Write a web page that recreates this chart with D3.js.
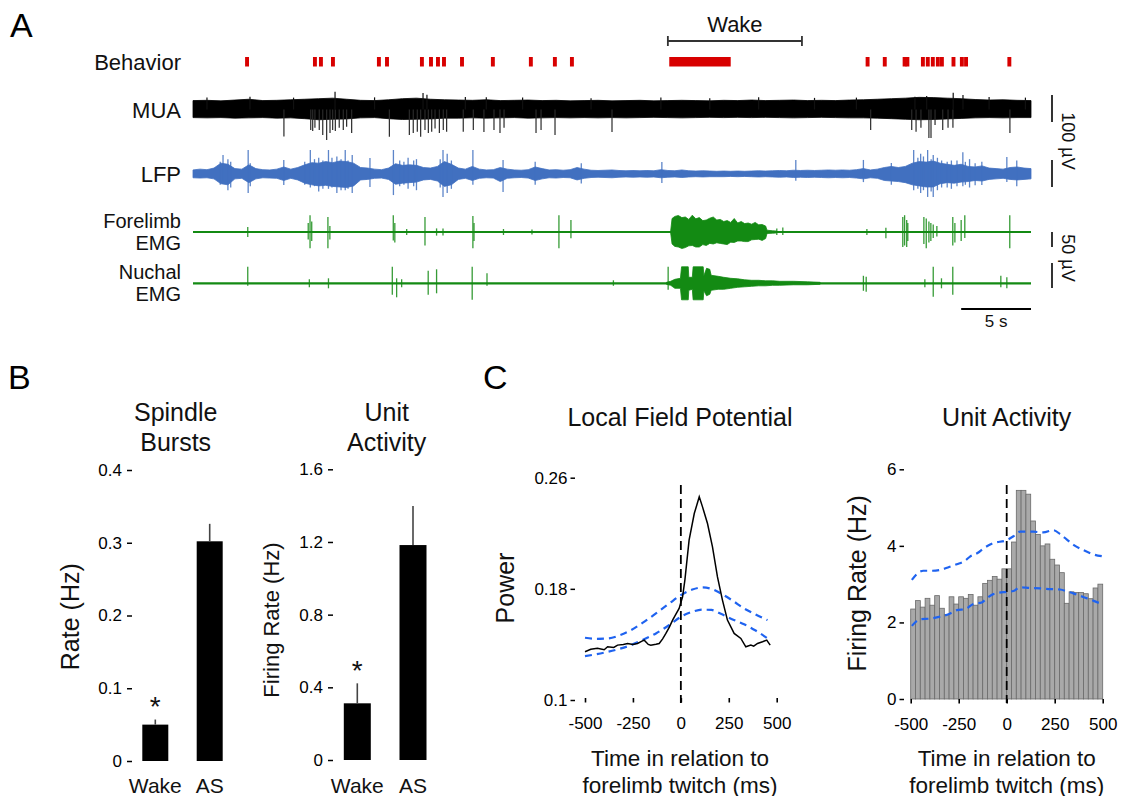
<!DOCTYPE html>
<html>
<head>
<meta charset="utf-8">
<title>Spindle bursts, unit activity and twitches</title>
<script src="https://cdn.jsdelivr.net/npm/d3@7/dist/d3.min.js"></script>
<style>
  html, body { margin: 0; padding: 0; background: #fff; }
  svg { display: block; font-family: "Liberation Sans", Arial, Helvetica, sans-serif; }
</style>
</head>
<body>
<svg id="fig" width="1123" height="796"></svg>
<script>
// ================= Panel A data (time in s, amplitude in µV) =================
const behaviorTwitches = [3.87, 8.73, 9.16, 10.02, 13.31, 13.89, 16.39, 17.04, 17.54, 17.97, 19.26,
  21.47, 24.19, 25.91, 27.13, 48.3, 49.53, 50.95, 51.15, 52.26, 52.61, 52.97, 53.33, 53.62,
  54.45, 55.05, 55.35, 58.45];
const twitchDuration = 0.28;
const wakeBout = [34.1, 38.5];
const wakeBracket = [34.0, 43.6];

// MUA envelope, one value per second
const muaHi = [33,34,32,35,38,33,34,36,38,40, 42,38,34,33,36,40,42,38,36,35,
  34,36,33,34,35,33,34,32,33,34, 32,33,34,32,33,34,33,32,34,33,
  35,33,34,35,33,34,33,35,36,38, 40,42,45,44,42,40,37,35,36,34, 33];
const muaLo = [-30,-31,-30,-32,-31,-30,-32,-31,-34,-38, -36,-35,-31,-30,-34,-37,-36,-35,-32,-32,
  -31,-32,-31,-30,-32,-31,-30,-31,-30,-31, -30,-31,-30,-29,-30,-31,-30,-29,-30,-29,
  -30,-29,-30,-31,-30,-29,-30,-31,-31,-32, -34,-36,-38,-37,-35,-33,-31,-30,-31,-30, -30];
const muaDownSpikes = [[6.51,-100],[8.43,-76],[8.57,-80],[8.73,-68],[9.04,-76],[9.29,-94],[9.57,-113],
  [9.81,-87],[10.0,-76],[10.19,-80],[10.47,-68],[10.76,-76],[11.0,-64],[11.36,-87],[14.06,-101],
  [15.49,-94],[15.77,-87],[16.06,-82],[16.3,-101],[16.61,-76],[16.85,-87],[17.09,-82],[17.33,-70],
  [17.64,-87],[17.92,-76],[18.16,-82],[19.35,-82],[20.07,-76],[20.83,-83],[21.55,-76],[21.98,-87],
  [22.27,-68],[24.56,-87],[24.92,-76],[25.92,-94],[30.0,-83],[48.52,-76],[51.46,-76],[51.77,-82],
  [52.12,-68],[52.69,-106],[52.84,-106],[53.13,-57],[53.68,-76],[54.06,-68],[54.41,-68],[58.49,-87]];
const muaUpSpikes = [[1.0,44],[4.08,47],[7.2,44],[10.17,66],[13.0,45],[16.47,61],[16.75,55],[19.5,46],
  [21.0,45],[23.6,44],[28.5,42],[33.5,44],[37.0,42],[40.5,45],[44.5,43],[47.5,44],[51.69,47],
  [52.53,50],[54.43,62],[55.13,54],[57.0,46],[59.6,44]];

// LFP envelope, one value per 0.5 s
const lfpHi = [15,18,16,22,40,36,20,18,34,20, 16,15,18,26,18,24,34,42,40,46,
  42,48,46,40,24,22,18,16,22,38, 32,34,32,24,22,28,46,36,22,18,
  28,18,15,16,24,18,15,14,16,26, 20,15,16,14,16,24,18,14,13,14,
  15,13,12,13,12,13,12,16,13,12, 15,12,11,12,11,10,11,10,11,10,
  11,12,11,12,13,12,14,13,14,13, 14,15,14,15,14,16,20,15,18,24,
  28,24,28,40,46,44,48,40,36,32, 36,28,26,30,22,20,18,24,26,22, 20];
const lfpLo = [-14,-15,-14,-18,-36,-40,-18,-16,-32,-18, -14,-15,-16,-24,-16,-22,-34,-40,-44,-42,
  -46,-48,-50,-44,-22,-20,-16,-15,-20,-38, -34,-32,-30,-22,-20,-26,-46,-40,-20,-16,
  -24,-16,-14,-15,-28,-16,-14,-13,-15,-24, -18,-14,-15,-13,-14,-22,-16,-13,-12,-13,
  -14,-12,-11,-12,-11,-12,-11,-14,-12,-11, -13,-11,-10,-11,-10,-10,-10,-9,-10,-9,
  -10,-11,-10,-11,-12,-11,-13,-12,-13,-12, -13,-14,-13,-14,-13,-15,-18,-14,-16,-24,
  -26,-28,-32,-40,-44,-48,-48,-36,-32,-34, -30,-28,-24,-26,-20,-18,-16,-20,-22,-20, -18];
const lfpSpikes = [[1.95,45,-40],[2.15,70,-25],[2.5,55,-60],[2.7,45,-50],[3.95,89,-70],[4.1,40,-45],
  [6.5,52,-41],[8.0,45,-40],[8.4,89,-50],[8.7,55,-45],[9.0,60,-65],[9.3,50,-55],[9.7,89,-55],
  [9.95,60,-50],[10.3,65,-70],[10.6,55,-60],[10.9,89,-60],[11.1,50,-55],[11.4,70,-70],[12.67,59,-48],
  [14.35,89,-78],[14.8,50,-45],[15.1,45,-40],[15.4,60,-55],[15.8,50,-45],[16.0,55,-60],[17.7,55,-50],
  [17.9,89,-85],[18.2,75,-70],[18.5,50,-55],[20.04,89,-40],[22.2,52,-67],[24.5,45,-40],[27.8,40,-35],
  [33.57,44,-33],[43.16,52,-25],[48.0,52,-30],[50.0,41,-40],[51.6,89,-60],[51.9,60,-55],[52.1,75,-70],
  [52.3,65,-60],[52.6,89,-85],[52.85,55,-65],[53.0,70,-85],[53.3,60,-60],[53.6,50,-50],[54.0,45,-50],
  [54.3,50,-55],[54.7,50,-45],[55.12,81,-45],[55.3,45,-40],[55.6,55,-50],[56.0,40,-42],[56.48,45,-41],
  [58.27,63,-30],[58.98,50,-45]];

// EMG twitches [t, up, down] and wake bursts [t, up, down]
const foreSpikes = [[3.92,17,-17],[8.25,30,-25],[8.38,56,-54],[8.5,35,-30],[9.66,50,-54],[9.8,20,-25],
  [14.34,56,-28],[14.45,30,-35],[15.3,10,-10],[16.61,50,-45],[17.44,12,-12],[17.9,12,-12],[20.04,53,-54],
  [20.12,30,-30],[22.23,10,-10],[24.27,8,-8],[26.2,56,-54],[27.06,40,-21],[41.8,12,-10],[42.23,15,-10],
  [48.25,10,-10],[49.61,14,-21],[50.82,50,-50],[50.95,56,-45],[51.1,40,-50],[51.18,30,-30],[52.33,50,-40],
  [52.5,45,-54],[52.69,35,-35],[52.83,30,-30],[53.0,25,-20],[53.26,20,-15],[54.4,50,-45],[54.55,30,-35],
  [55.0,40,-30],[55.26,56,-20],[58.48,56,-54]];
const foreWake = [[34.2,3,-3],[34.3,45,-40],[34.5,52,-48],[34.75,55,-50],[35.0,48,-55],[35.25,50,-52],
  [35.5,42,-46],[35.75,56,-45],[36.0,44,-50],[36.25,48,-50],[36.5,38,-42],[36.75,40,-45],[37.0,46,-38],
  [37.25,50,-40],[37.5,40,-36],[37.75,42,-38],[38.0,35,-40],[38.25,38,-42],[38.5,32,-34],[38.75,45,-35],
  [39.0,30,-30],[39.25,35,-30],[39.5,28,-32],[39.75,30,-32],[40.0,26,-26],[40.25,32,-25],[40.5,24,-24],
  [40.75,25,-28],[41.0,20,-22],[41.1,6,-5],[41.5,4,-4],[41.8,3,-3]];
const nuchSpikes = [[3.92,33,-5],[8.33,8,-8],[9.7,10,-10],[14.27,33,-23],[14.58,10,-28],[14.94,8,-8],
  [16.84,25,-23],[17.44,28,-20],[19.99,33,-33],[21.05,20,-5],[30.1,6,-5],[34.02,33,-13],[48.0,15,-15],
  [48.2,13,-17],[52.4,8,-8],[53.0,33,-27],[53.59,10,-10],[54.4,33,-23],[57.84,15,-8],[58.27,12,-10]];
const nuchWake = [[33.9,2,-2],[34.2,4,-4],[34.5,8,-10],[34.9,10,-10],[34.98,33,-33],[35.46,33,-33],
  [35.5,12,-14],[35.75,12,-12],[35.81,33,-33],[36.53,33,-33],[36.58,15,-15],[36.77,30,-25],[37.0,28,-22],
  [37.1,16,-14],[37.6,14,-12],[38.0,12,-12],[38.5,10,-10],[39.0,9,-8],[39.5,7,-7],[40.0,6,-6],
  [40.5,6,-5],[41.0,5,-5],[41.5,5,-4],[42.0,4,-4],[43.0,4,-3],[44.0,3,-3],[44.9,2,-2]];

// ================= Panel B data =================
const states = ['Wake', 'AS'];
const spindleRate = [0.050, 0.302];
const spindleErr = [0.007, 0.024];
const spindleTicks = [0, 0.1, 0.2, 0.3, 0.4];
const unitStateRate = [0.312, 1.183];
const unitStateErr = [0.11, 0.215];
const unitStateTicks = [0, 0.4, 0.8, 1.2, 1.6];
const significant = [true, false];

// ================= Panel C data (time relative to twitch, ms) =================
const timeTicks = [-500, -250, 0, 250, 500];
const lfpPowerTicks = [0.1, 0.18, 0.26];
const lfpTime = [-500,-470,-435,-400,-382,-350,-330,-300,-278,-250,-226,-200,-191,-170,-157,-130,-113,
  -95,-78,-60,-43,-25,-9,9,21,43,70,96,113,139,165,191,217,243,278,313,339,365,380,400,426,448,466];
const lfpPower = [0.1347,0.1365,0.1372,0.1362,0.1383,0.1378,0.1395,0.1400,0.1407,0.1400,0.1407,0.1425,
  0.1431,0.1400,0.1395,0.1402,0.1407,0.1440,0.1479,0.1525,0.1575,0.1620,0.1659,0.1743,0.1863,0.2150,
  0.2342,0.2462,0.2390,0.2270,0.2102,0.1886,0.1719,0.1575,0.1479,0.1443,0.1383,0.1395,0.1388,0.1407,
  0.1419,0.1431,0.1395];
const lfpBandTime = [-500,-440,-380,-320,-260,-200,-130,-60,0,60,113,160,209,270,330,390,452];
const lfpUpper = [0.1448,0.1440,0.1443,0.1465,0.1503,0.1555,0.1623,0.1695,0.1755,0.1795,0.1810,0.1800,
  0.1767,0.1715,0.1659,0.1615,0.1575];
const lfpLower = [0.1316,0.1330,0.1347,0.1368,0.1395,0.1432,0.1479,0.1540,0.1599,0.1635,0.1650,0.1648,
  0.1620,0.1580,0.1545,0.1500,0.1443];

const unitRateTicks = [0, 2, 4, 6];
const binWidth = 25;
const unitRate = [2.35,2.57,2.4,2.63,2.45,2.7,2.37,2.2,2.67,2.48,2.67,2.63,2.73,2.45,2.67,3.02,3.1,3.2,3.13,3.4,
  3.4,4.1,5.45,5.45,5.35,4.65,4.3,4.0,4.05,3.65,3.5,3.3,2.5,2.8,2.78,2.78,2.75,2.62,2.9,3.0];
const unitUpperTime = [-494,-460,-434,-390,-347,-300,-260,-220,-191,-150,-122,-70,0,35,70,139,190,243,280,312,350,399,450,495];
const unitUpper = [3.11,3.3,3.35,3.35,3.37,3.45,3.52,3.6,3.72,3.82,3.93,4.07,4.15,4.25,4.37,4.37,4.35,4.41,4.3,4.17,4.02,3.89,3.78,3.73];
const unitLowerTime = [-494,-451,-400,-347,-300,-260,-215,-174,-130,-104,-70,0,35,70,120,174,230,278,320,347,380,417,460,495];
const unitLower = [1.91,2.08,2.1,2.15,2.22,2.32,2.35,2.48,2.52,2.63,2.74,2.80,2.82,2.92,2.9,2.89,2.87,2.86,2.8,2.76,2.7,2.63,2.55,2.48];

// ================= drawing =================
const svg = d3.select('#fig');
const RED = '#d80000', BLUE_LFP = '#4170c0', GREEN = '#138a13', DASH_BLUE = '#1f63f0';

function label(g, x, y, text, size, anchor = 'middle', rotate = 0) {
  const t = g.append('text')
    .attr('x', x).attr('y', y)
    .attr('font-size', size)
    .attr('text-anchor', anchor)
    .attr('dominant-baseline', 'central')
    .attr('fill', '#111')
    .text(text);
  if (rotate) t.attr('transform', `rotate(${rotate},${x},${y})`);
  return t;
}
// multi-line label kept as one text element
function labelLines(g, x, y, lines, size, gap, anchor = 'middle') {
  const t = g.append('text')
    .attr('font-size', size)
    .attr('text-anchor', anchor)
    .attr('fill', '#111');
  lines.forEach((s, i) => {
    t.append('tspan').attr('x', x).attr('y', y + i * gap)
      .attr('dominant-baseline', 'central').text(s);
  });
  return t;
}

// ---------- Panel A ----------
const gA = svg.append('g');
const tA = d3.scaleLinear().domain([0, 60]).range([193, 1031]);
const muaY = d3.scaleLinear().domain([-100, 100]).range([109.5 + 27, 109.5 - 27]);
const lfpY = d3.scaleLinear().domain([-100, 100]).range([174 + 27, 174 - 27]);
const foreY = d3.scaleLinear().domain([-100, 100]).range([232 + 30, 232 - 30]);
const nuchY = d3.scaleLinear().domain([-100, 100]).range([283.3 + 50, 283.3 - 50]);

gA.append('text').attr('x', 10).attr('y', 37).attr('font-size', 34).text('A');

// behaviour
gA.selectAll('rect.twitch').data(behaviorTwitches).join('rect')
  .attr('x', d => tA(d - twitchDuration / 2))
  .attr('width', tA(twitchDuration) - tA(0))
  .attr('y', 57).attr('height', 9.5).attr('fill', RED);
gA.append('rect').attr('x', tA(wakeBout[0])).attr('width', tA(wakeBout[1]) - tA(wakeBout[0]))
  .attr('y', 57).attr('height', 9.5).attr('fill', RED);
const bx0 = tA(wakeBracket[0]), bx1 = tA(wakeBracket[1]);
gA.append('path').attr('d', `M${bx0},36V46M${bx0},41H${bx1}M${bx1},36V46`)
  .attr('stroke', '#333').attr('stroke-width', 1.8).attr('fill', 'none');
label(gA, (bx0 + bx1) / 2, 24, 'Wake', 22);

// generic envelope band + spike helpers
function bandFromArrays(hi, lo, step, y, color) {
  gA.append('path').datum(hi)
    .attr('d', d3.area().x((d, i) => tA(i * step)).y0((d, i) => y(lo[i])).y1(d => y(d)))
    .attr('fill', color).attr('stroke', color).attr('stroke-width', 0.8);
}
function bandFromTriples(list, y, color) {
  gA.append('path').datum(list)
    .attr('d', d3.area().x(d => tA(d[0])).y0(d => y(d[2])).y1(d => y(d[1])))
    .attr('fill', color).attr('stroke', color).attr('stroke-width', 0.8);
}
function spikes(list, y, color, w, opacity = 1) {
  gA.append('g').selectAll('line').data(list).join('line')
    .attr('x1', d => tA(d[0])).attr('x2', d => tA(d[0]))
    .attr('y1', d => y(d.length > 2 ? d[2] : 0)).attr('y2', d => y(d[1]))
    .attr('stroke', color).attr('stroke-width', w).attr('stroke-opacity', opacity);
}

// MUA
bandFromArrays(muaHi, muaLo, 1, muaY, '#000');
spikes(muaDownSpikes, muaY, '#2a2a2a', 1.2);
spikes(muaUpSpikes, muaY, '#111', 1.2);
// LFP
bandFromArrays(lfpHi, lfpLo, 0.5, lfpY, BLUE_LFP);
spikes(lfpSpikes, lfpY, BLUE_LFP, 1.3, 0.85);
// Forelimb EMG
gA.append('line').attr('x1', tA(0)).attr('x2', tA(60)).attr('y1', foreY(0)).attr('y2', foreY(0))
  .attr('stroke', GREEN).attr('stroke-width', 2.2);
bandFromTriples(foreWake, foreY, GREEN);
spikes(foreSpikes, foreY, GREEN, 1.3, 0.85);
// Nuchal EMG
gA.append('line').attr('x1', tA(0)).attr('x2', tA(60)).attr('y1', nuchY(0)).attr('y2', nuchY(0))
  .attr('stroke', GREEN).attr('stroke-width', 2.2);
bandFromTriples(nuchWake, nuchY, GREEN);
spikes(nuchSpikes, nuchY, GREEN, 1.3, 0.85);

// trace names
label(gA, 181, 62, 'Behavior', 22, 'end');
label(gA, 181, 110, 'MUA', 22, 'end');
label(gA, 181, 174, 'LFP', 22, 'end');
labelLines(gA, 181, 220.5, ['Forelimb', 'EMG'], 20, 22.5, 'end');
labelLines(gA, 181, 271.5, ['Nuchal', 'EMG'], 20, 22.5, 'end');

// amplitude scale bars
function vbar(x, top, len) {
  gA.append('line').attr('x1', x).attr('x2', x).attr('y1', top).attr('y2', top + len)
    .attr('stroke', '#000').attr('stroke-width', 1.6);
}
vbar(1052, 95, muaY(0) - muaY(100));
vbar(1052, 160, lfpY(0) - lfpY(100));
vbar(1052, 232, foreY(0) - foreY(50));
vbar(1052, 263, nuchY(0) - nuchY(50));
label(gA, 1068, 141, '100 µV', 18, 'middle', 90);
label(gA, 1068, 258, '50 µV', 18, 'middle', 90);
// time scale bar
gA.append('line').attr('x1', tA(55)).attr('x2', tA(60)).attr('y1', 309).attr('y2', 309)
  .attr('stroke', '#000').attr('stroke-width', 1.8);
label(gA, tA(57.5), 321, '5 s', 17);

// ---------- Panel B ----------
const gB = svg.append('g');
gB.append('text').attr('x', 8).attr('y', 389).attr('font-size', 34).text('B');

function stateBars(cfg) {
  const g = gB.append('g');
  const y = d3.scaleLinear().domain(cfg.domain).range(cfg.range);
  const x = d3.scalePoint().domain(states).range(cfg.centers);
  const ax = g.append('g').attr('transform', `translate(${cfg.axisX},0)`)
    .call(d3.axisLeft(y).tickValues(cfg.ticks).tickSize(5).tickPadding(5)
      .tickFormat(d => d === 0 ? '0' : d3.format('.1f')(d)));
  ax.select('.domain').remove();
  ax.attr('font-size', 17).attr('font-family', null);
  ax.selectAll('line').attr('stroke-width', 1.5);
  g.selectAll('rect.bar').data(cfg.values).join('rect')
    .attr('x', (d, i) => x(states[i]) - cfg.barW / 2).attr('width', cfg.barW)
    .attr('y', d => y(d)).attr('height', d => y(0) - y(d)).attr('fill', '#000');
  g.selectAll('line.err').data(cfg.values).join('line')
    .attr('x1', (d, i) => x(states[i])).attr('x2', (d, i) => x(states[i]))
    .attr('y1', d => y(d)).attr('y2', (d, i) => y(d + cfg.errs[i]))
    .attr('stroke', '#444').attr('stroke-width', 1.6);
  cfg.values.forEach((d, i) => {
    if (significant[i]) label(g, x(states[i]), y(d + cfg.errs[i]) - 13, '*', 28);
  });
  states.forEach(s => label(g, x(s), 785, s, 21));
  labelLines(g, cfg.titleX, 411.7, cfg.title, 25, 30);
  label(g, cfg.yLabelX, cfg.yLabelY, cfg.yLabel, cfg.yLabelSize, 'middle', -90);
}
stateBars({ domain: [0, 0.4], range: [761, 470], centers: [155.3, 209.7], axisX: 132, barW: 26,
  ticks: spindleTicks, values: spindleRate, errs: spindleErr, title: ['Spindle', 'Bursts'], titleX: 175.7,
  yLabel: 'Rate (Hz)', yLabelX: 70, yLabelY: 616.7, yLabelSize: 25 });
stateBars({ domain: [0, 1.6], range: [760, 469.3], centers: [357.3, 413], axisX: 333, barW: 27,
  ticks: unitStateTicks, values: unitStateRate, errs: unitStateErr, title: ['Unit', 'Activity'], titleX: 386.7,
  yLabel: 'Firing Rate (Hz)', yLabelX: 271.7, yLabelY: 620, yLabelSize: 22 });

// ---------- Panel C ----------
const gC = svg.append('g');
gC.append('text').attr('x', 483).attr('y', 389).attr('font-size', 34).text('C');

function timeAxes(g, x, y, yTicks, axisX, axisY, yFmt) {
  const ay = g.append('g').attr('transform', `translate(${axisX},0)`)
    .call(d3.axisLeft(y).tickValues(yTicks).tickSize(4.5).tickPadding(3).tickFormat(yFmt));
  ay.select('.domain').remove();
  ay.attr('font-size', 17).attr('font-family', null);
  ay.selectAll('line').attr('stroke-width', 1.5);
  const axx = g.append('g').attr('transform', `translate(0,${axisY})`)
    .call(d3.axisBottom(x).tickValues(timeTicks).tickSize(4.5).tickPadding(14).tickFormat(d => String(d)));
  axx.select('.domain').remove();
  axx.attr('font-size', 17).attr('font-family', null);
  axx.selectAll('line').attr('stroke-width', 1.6);
}
function zeroLine(g, x) {
  g.append('line').attr('x1', x(0)).attr('x2', x(0)).attr('y1', 485).attr('y2', 703)
    .attr('stroke', '#000').attr('stroke-width', 1.8).attr('stroke-dasharray', '9,5');
}
function xTitle(g, cx) {
  labelLines(g, cx, 758.3, ['Time in relation to', 'forelimb twitch (ms)'], 22.5, 26.7);
}

// LFP power around twitches
const xL = d3.scaleLinear().domain([-500, 500]).range([585, 776.7]);
const yL = d3.scaleLinear().domain([0.1, 0.26]).range([700, 477.7]);
timeAxes(gC, xL, yL, lfpPowerTicks, 575, 698, d => String(d));
zeroLine(gC, xL);
const dashLine = (times, x, y) => d3.line().x((d, i) => x(times[i])).y(d => y(d)).curve(d3.curveMonotoneX);
gC.append('path').datum(lfpUpper).attr('d', dashLine(lfpBandTime, xL, yL))
  .attr('fill', 'none').attr('stroke', DASH_BLUE).attr('stroke-width', 2.2).attr('stroke-dasharray', '7,5');
gC.append('path').datum(lfpLower).attr('d', dashLine(lfpBandTime, xL, yL))
  .attr('fill', 'none').attr('stroke', DASH_BLUE).attr('stroke-width', 2.2).attr('stroke-dasharray', '7,5');
gC.append('path').datum(lfpPower)
  .attr('d', d3.line().x((d, i) => xL(lfpTime[i])).y(d => yL(d)))
  .attr('fill', 'none').attr('stroke', '#000').attr('stroke-width', 1.5);
label(gC, 680, 416.7, 'Local Field Potential', 25);
label(gC, 505, 588, 'Power', 25, 'middle', -90);
xTitle(gC, 680);

// unit activity histogram around twitches
const xU = d3.scaleLinear().domain([-500, 500]).range([910.7, 1102.7]);
const yU = d3.scaleLinear().domain([0, 6]).range([699, 469.3]);
gC.append('g').selectAll('rect').data(unitRate).join('rect')
  .attr('x', (d, i) => xU(-500 + i * binWidth)).attr('width', xU(binWidth) - xU(0))
  .attr('y', d => yU(d)).attr('height', d => yU(0) - yU(d))
  .attr('fill', '#a9a9a9').attr('stroke', '#6a6a6a').attr('stroke-width', 0.8);
timeAxes(gC, xU, yU, unitRateTicks, 904, 699, d => String(d));
zeroLine(gC, xU);
gC.append('path').datum(unitUpper).attr('d', dashLine(unitUpperTime, xU, yU))
  .attr('fill', 'none').attr('stroke', DASH_BLUE).attr('stroke-width', 2.2).attr('stroke-dasharray', '7,5');
gC.append('path').datum(unitLower).attr('d', dashLine(unitLowerTime, xU, yU))
  .attr('fill', 'none').attr('stroke', DASH_BLUE).attr('stroke-width', 2.2).attr('stroke-dasharray', '7,5');
label(gC, 1006.7, 416.7, 'Unit Activity', 25);
label(gC, 856.7, 583.3, 'Firing Rate (Hz)', 25, 'middle', -90);
xTitle(gC, 1006.7);
</script>
</body>
</html>
